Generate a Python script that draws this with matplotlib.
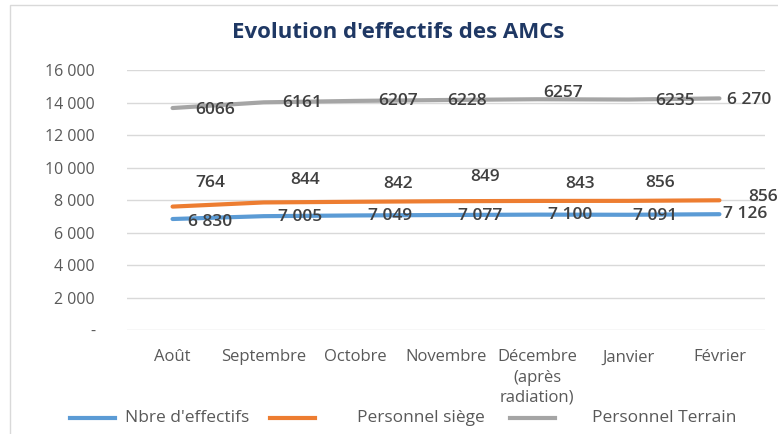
import matplotlib.pyplot as plt
import numpy as np
from matplotlib.lines import Line2D
from matplotlib.patches import Rectangle
from matplotlib.ticker import FuncFormatter

plt.rcParams['font.family'] = ['Open Sans', 'DejaVu Sans']

# categories
mois = ['Août', 'Septembre', 'Octobre', 'Novembre',
        'Décembre\n(après\nradiation)', 'Janvier', 'Février']

# series values (stacked line chart)
effectifs = [6830, 7005, 7049, 7077, 7100, 7091, 7126]
siege = [764, 844, 842, 849, 843, 856, 856]
terrain = [6066, 6161, 6207, 6228, 6257, 6235, 6270]

series_names = ["Nbre d'effectifs", 'Personnel siège', 'Personnel Terrain']

# data label texts
lab_effectifs = ['6 830', '7 005', '7 049', '7 077', '7 100', '7 091', '7 126']
lab_siege = ['764', '844', '842', '849', '843', '856', '856']
lab_terrain = ['6066', '6161', '6207', '6228', '6257', '6235', '6 270']

# label offsets in pixels (dx, dy), labels were moved by hand in the original
off_effectifs = [(37, -3), (36, -1), (35, -1), (34, -1), (33, 0), (27, -1), (26, 0)]
off_siege = [(38, 24), (41, 22), (43, 18), (39, 24), (43, 17), (32, 18), (44, 3)]
off_terrain = [(43, -1.5), (39, -1), (43, 0), (21, -1), (26, 6.5), (47, -1.5), (30, -1.5)]

blue = '#5B9BD5'
orange = '#ED7D31'
gray = '#A5A5A5'
txt = '#404040'
axtxt = '#595959'

x = np.arange(len(mois))
s1 = np.array(effectifs)
s2 = s1 + np.array(siege)
s3 = s2 + np.array(terrain)

fig = plt.figure(figsize=(7.78, 4.34), dpi=100)
fig.patches.append(Rectangle((10 / 778, -0.1), 1.1, 1 - 5 / 434 + 0.1,
                             transform=fig.transFigure, fill=False,
                             edgecolor='#D9D9D9', linewidth=1))
ax = fig.add_axes([127 / 778, 1 - 330 / 434, 638 / 778, 260 / 434])

colors = [blue, orange, gray]
lines = []
for ys, c, name in zip([s1, s2, s3], colors, series_names):
    ln, = ax.plot(x, ys, color=c, lw=3, solid_capstyle='round', label=name)
    lines.append(ln)

for ys, labs, offs in [(s1, lab_effectifs, off_effectifs),
                       (s2, lab_siege, off_siege),
                       (s3, lab_terrain, off_terrain)]:
    for xi, yi, t, (dx, dy) in zip(x, ys, labs, offs):
        ax.annotate(t, (xi, yi), xytext=(dx, dy), textcoords='offset pixels',
                    ha='center', va='center', fontsize=12.5, color=txt,
                    fontweight='semibold', annotation_clip=False)

ax.set_xlim(-0.5, len(mois) - 0.5)
ax.set_ylim(0, 16000)
ax.set_yticks(np.arange(0, 16001, 2000))
ax.yaxis.set_major_formatter(FuncFormatter(
    lambda v, p: '-' if v == 0 else f'{int(v):,}'.replace(',', ' ')))
ax.set_xticks(x)
ax.set_xticklabels(mois, linespacing=1.35, fontsize=12)
ax.tick_params(axis='both', length=0, labelsize=11.5, colors=axtxt)
ax.tick_params(axis='x', pad=14, labelsize=12)
ax.tick_params(axis='y', pad=23)
ax.grid(axis='y', color='#D9D9D9', lw=1)
ax.set_axisbelow(True)
for sp in ax.spines.values():
    sp.set_visible(False)

fig.text(398 / 778, 1 - 33 / 434, "Evolution d'effectifs des AMCs",
         ha='center', va='center', fontsize=16, fontweight='bold', color='#1F3864')

# legend, drawn entry by entry to keep Excel's uneven spacing
leg_y = 1 - 418 / 434
leg_handles = [(70, 115, 125), (270, 315, 357), (510, 555, 592)]
for ln, (x0, x1, xt) in zip(lines, leg_handles):
    fig.add_artist(Line2D([x0 / 778, x1 / 778], [leg_y, leg_y], transform=fig.transFigure,
                          color=ln.get_color(), lw=3))
    fig.text(xt / 778, leg_y, ln.get_label(), ha='left', va='center',
             fontsize=12.5, color=axtxt)

fig.savefig('out.png', dpi=100)
